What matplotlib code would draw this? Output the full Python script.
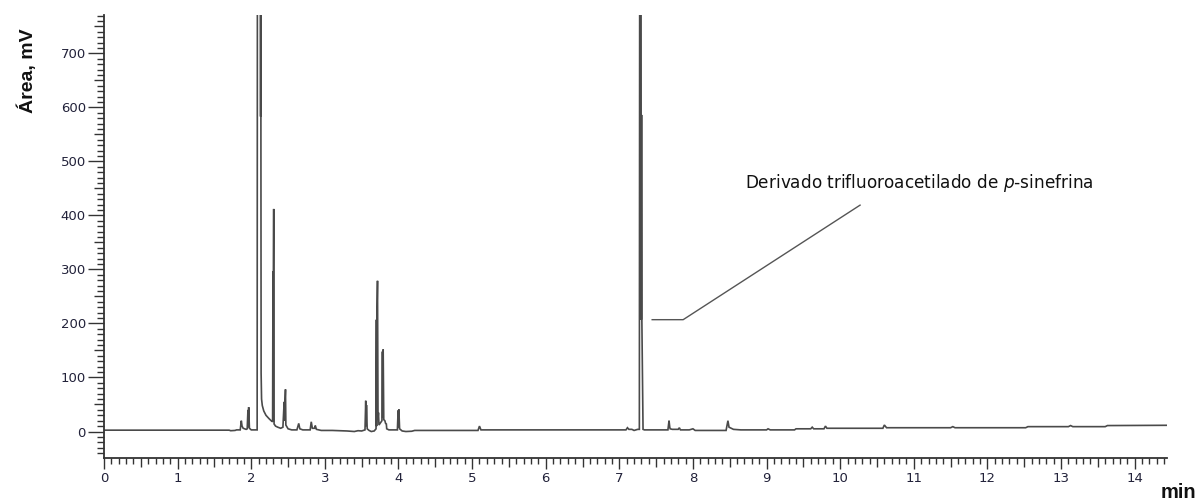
import matplotlib
matplotlib.use("Agg")
import matplotlib.pyplot as plt
from matplotlib.ticker import MultipleLocator, FuncFormatter

plt.rcParams['font.family'] = ['DejaVu Sans']
plt.rcParams['mathtext.fontset'] = 'dejavusans'

# chromatogram trace (time in min, signal in mV)
# values above the axis top are saturated peaks, clipped by the axes
t_min = [0.00, 1.70, 1.72, 1.78, 1.80, 1.85, 1.865, 1.875, 1.89, 1.93,
         1.945, 1.955, 1.960, 1.965, 1.975, 2.00, 2.07,
         2.080, 2.086, 2.122, 2.127, 2.129, 2.131, 2.134, 2.140, 2.15, 2.17,
         2.20, 2.24, 2.27, 2.29,
         2.295, 2.298, 2.301, 2.305, 2.310, 2.33, 2.36, 2.40, 2.43,
         2.445, 2.450, 2.455, 2.458, 2.465, 2.470, 2.50, 2.55,
         2.62, 2.645, 2.66, 2.70, 2.80, 2.815, 2.83, 2.86, 2.87, 2.885,
         2.95, 3.10, 3.30, 3.40, 3.45, 3.50,
         3.545, 3.555, 3.560, 3.565, 3.575, 3.60, 3.63, 3.67,
         3.695, 3.700, 3.703, 3.706, 3.715, 3.722, 3.728, 3.735,
         3.775, 3.782, 3.787, 3.792, 3.800, 3.815, 3.825, 3.835, 3.84, 3.87,
         3.985, 3.995, 4.000, 4.005, 4.015, 4.05, 4.10, 4.18, 4.22,
         5.05, 5.08, 5.10, 5.12, 7.05,
         7.09, 7.11, 7.13, 7.17, 7.20, 7.25,
         7.272, 7.280, 7.292, 7.298, 7.302, 7.306, 7.322, 7.34,
         7.36, 7.66, 7.675, 7.685, 7.69, 7.72, 7.80, 7.815, 7.83, 7.95,
         8.00, 8.03, 8.45, 8.475, 8.49, 8.52, 8.55, 8.65, 8.80,
         9.00, 9.02, 9.05, 9.38, 9.40, 9.60, 9.62, 9.64, 9.78, 9.80, 9.82,
         10.58, 10.60, 10.63, 11.50, 11.53, 11.56, 12.52, 12.55,
         13.10, 13.13, 13.16, 13.60, 13.63, 14.44]
signal_mv = [2.5, 2.5, 1.5, 2, 3, 3, 20, 10, 6, 4,
             5, 40, 8, 45, 6, 3, 3,
             3, 1500, 1500, 583, 1500, 583, 108, 60, 48, 38,
             30, 24, 20, 18,
             296, 18, 296, 412, 14, 10, 8, 6, 8,
             50, 55, 20, 55, 78, 12, 5, 3,
             3, 15, 5, 3, 3, 18, 6, 6, 11, 4,
             2, 2, 1, 0, 1.5, 1,
             3, 57, 10, 49, 5, 2, 0, 1,
             5, 207, 10, 207, 279, 25, 35, 12,
             20, 148, 25, 152, 22, 20, 15, 14, 5, 3,
             3, 39, 8, 41, 5, 1, 0, 0.5, 2,
             2, 2, 10, 3, 3,
             3, 7, 4, 4, 2, 4,
             4, 1500, 1500, 207, 586, 207, 4, 3,
             3, 3, 20, 8, 5, 4, 4, 7, 3, 3,
             5, 2, 2, 20, 8, 6, 4, 3, 3,
             3, 5, 3, 3, 5, 5, 8, 5, 5, 10, 6,
             6, 12, 7, 7, 9, 7, 7, 9,
             9, 11, 9, 9, 11, 11.5]

x_ticks = list(range(0, 15))
y_ticks = [0, 100, 200, 300, 400, 500, 600, 700]

label_text = r'Derivado trifluoroacetilado de $\it{p}$-sinefrina'
# leader line: horizontal stub next to the peak, then up to the label
leader_t = [7.446, 7.867, 10.27]
leader_mv = [207, 207, 419]

fig = plt.figure(figsize=(12.04, 5.04), dpi=100)
ax = fig.add_axes([0.0864, 0.0913, 0.8829, 0.879])

ax.plot(t_min, signal_mv, color='#4a4a4a', lw=1.2, solid_joinstyle='miter')
ax.plot(leader_t, leader_mv, color='#555555', lw=1.0)
ax.text(8.71, 460, label_text, fontsize=12.2, color='#111111',
        ha='left', va='center')

ax.set_xlim(0, 14.44)
ax.set_ylim(-49, 771)

for s in ['top', 'right']:
    ax.spines[s].set_visible(False)
for s in ['left', 'bottom']:
    ax.spines[s].set_color('#333333')
    ax.spines[s].set_linewidth(1.3)

ax.xaxis.set_major_locator(MultipleLocator(0.5))
ax.xaxis.set_minor_locator(MultipleLocator(0.1))
ax.yaxis.set_major_locator(MultipleLocator(50))
ax.yaxis.set_minor_locator(MultipleLocator(10))

ax.xaxis.set_major_formatter(FuncFormatter(
    lambda v, p: f'{v:.0f}' if abs(v - round(v)) < 1e-6 and round(v) in x_ticks else ''))
ax.yaxis.set_major_formatter(FuncFormatter(
    lambda v, p: f'{v:.0f}' if round(v) in y_ticks and abs(v - round(v)) < 1e-6 else ''))

ax.tick_params(axis='x', which='major', direction='out', length=8, width=1,
               color='#333333', labelsize=9.5, labelcolor='#22223a', pad=2)
ax.tick_params(axis='x', which='minor', direction='out', length=4.3, width=1,
               color='#333333')
ax.tick_params(axis='y', which='major', direction='out', length=11.5, width=1,
               color='#333333', labelsize=9.5, labelcolor='#22223a', pad=1.5)
ax.tick_params(axis='y', which='minor', direction='out', length=5, width=1,
               color='#333333')

# half-step ticks are shorter than the labelled ones
for tick, v in zip(ax.xaxis.get_major_ticks(), ax.xaxis.get_majorticklocs()):
    if abs(v - round(v)) > 1e-6:
        tick.tick1line.set_markersize(6.2)
for tick, v in zip(ax.yaxis.get_major_ticks(), ax.yaxis.get_majorticklocs()):
    if round(v) % 100 != 0:
        tick.tick1line.set_markersize(7)

fig.text(27 / 1204, 1 - 71 / 504, 'Área, mV', rotation=90, fontsize=14,
         fontweight='bold', family=['Liberation Sans Narrow', 'Liberation Sans'],
         ha='center', va='center', color='#111111')
fig.text(1178 / 1204, 2 / 504, 'min', fontsize=14.5, fontweight='bold',
         family=['Liberation Sans'], ha='center', va='bottom', color='#111111')

fig.savefig('out.png', dpi=100)
